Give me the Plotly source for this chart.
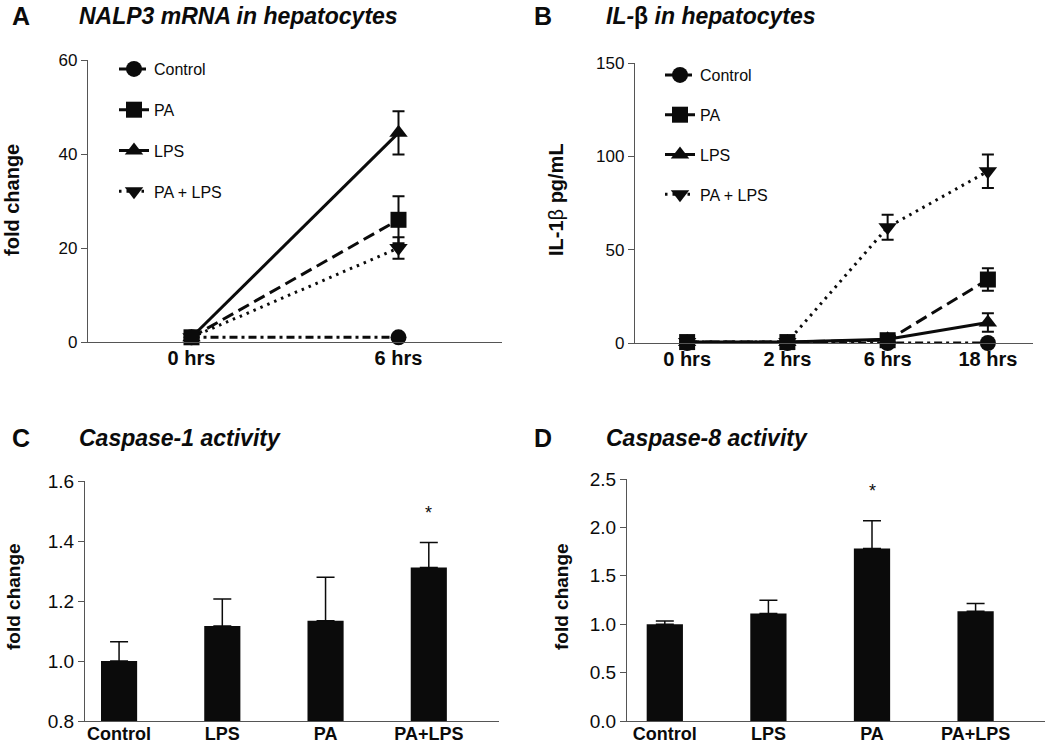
import plotly.graph_objects as go

# ---------------- data ----------------
time_a = ["0 hrs", "6 hrs"]
a_control = [1.0, 1.0]
a_control_err = [0.3, 0.4]
a_pa = [1.0, 26.0]
a_pa_err = [0.2, 5.0]
a_lps = [1.0, 44.5]
a_lps_err = [0.2, 4.6]
a_palps = [1.0, 20.0]
a_palps_err = [0.2, 2.3]

time_b = ["0 hrs", "2 hrs", "6 hrs", "18 hrs"]
b_control = [0.0, 0.0, 0.0, 0.0]
b_control_err = [0.0, 0.0, 0.0, 0.0]
b_pa = [0.5, 0.5, 1.5, 34.0]
b_pa_err = [0.3, 0.3, 0.5, 6.0]
b_lps = [0.5, 0.5, 2.0, 11.0]
b_lps_err = [0.3, 0.3, 0.5, 5.0]
b_palps = [0.5, 0.5, 62.0, 92.0]
b_palps_err = [0.3, 0.3, 6.7, 9.0]

groups_cd = ["Control", "LPS", "PA", "PA+LPS"]
c_vals = [1.0, 1.117, 1.134, 1.312]
c_err = [0.064, 0.090, 0.145, 0.083]
c_sig = [False, False, False, True]
d_vals = [1.0, 1.11, 1.783, 1.134]
d_err = [0.034, 0.138, 0.285, 0.080]
d_sig = [False, False, True, False]

series_names = ["Control", "PA", "LPS", "PA + LPS"]
# ---------------- styles ----------------
FONT = "Liberation Sans, Arial, Helvetica, sans-serif"
BLACK = "#0b0b0b"
AXC = "#555555"
W, H = 1050, 744

styles = {
    "Control": dict(symbol="circle", dash="8px,4px,3px,4px"),
    "PA": dict(symbol="square", dash="12px,6px"),
    "LPS": dict(symbol="triangle-up", dash="solid"),
    "PA + LPS": dict(symbol="triangle-down", dash="2.5px,5px"),
}
rank = {"Control": 1, "PA": 2, "LPS": 3, "PA + LPS": 4}


def px_x(p):
    return p / W


def px_y(p):
    return 1 - p / H


fig = go.Figure()

order = ["Control", "LPS", "PA + LPS", "PA"]
a_data = {"Control": (a_control, a_control_err), "PA": (a_pa, a_pa_err),
          "LPS": (a_lps, a_lps_err), "PA + LPS": (a_palps, a_palps_err)}
b_data = {"Control": (b_control, b_control_err), "PA": (b_pa, b_pa_err),
          "LPS": (b_lps, b_lps_err), "PA + LPS": (b_palps, b_palps_err)}

for name in order:
    st = styles[name]
    vals, err = a_data[name]
    fig.add_trace(go.Scatter(
        x=time_a, y=vals, name=name, mode="lines+markers",
        line=dict(color=BLACK, width=3, dash=st["dash"]),
        marker=dict(symbol=st["symbol"], size=16, color=BLACK),
        error_y=dict(type="data", array=err, color=BLACK, thickness=2, width=6),
        xaxis="x", yaxis="y", legend="legend", legendrank=rank[name],
        legendgroup="a_" + name, cliponaxis=False,
    ))
for name in order:
    st = styles[name]
    vals, err = b_data[name]
    fig.add_trace(go.Scatter(
        x=time_b, y=vals, name=name, mode="lines+markers",
        line=dict(color=BLACK, width=3, dash=st["dash"]),
        marker=dict(symbol=st["symbol"], size=16, color=BLACK),
        error_y=dict(type="data", array=err, color=BLACK, thickness=2, width=6),
        xaxis="x2", yaxis="y2", legend="legend2", legendrank=rank[name],
        legendgroup="b_" + name, cliponaxis=False,
    ))

fig.add_trace(go.Bar(
    x=groups_cd, y=c_vals, width=0.35, marker=dict(color=BLACK, line=dict(width=0)),
    error_y=dict(type="data", array=c_err, arrayminus=[0] * len(c_err), symmetric=False,
                 color=BLACK, thickness=1.5, width=9),
    xaxis="x3", yaxis="y3", showlegend=False,
))
fig.add_trace(go.Bar(
    x=groups_cd, y=d_vals, width=0.35, marker=dict(color=BLACK, line=dict(width=0)),
    error_y=dict(type="data", array=d_err, arrayminus=[0] * len(d_err), symmetric=False,
                 color=BLACK, thickness=1.5, width=9),
    xaxis="x4", yaxis="y4", showlegend=False,
))

ann = []
for cat, v, e, s in zip(groups_cd, c_vals, c_err, c_sig):
    if s:
        ann.append(dict(x=cat, y=v + e, xref="x3", yref="y3", text="*", showarrow=False,
                        yshift=30, font=dict(family=FONT, size=18, color=BLACK)))
for cat, v, e, s in zip(groups_cd, d_vals, d_err, d_sig):
    if s:
        ann.append(dict(x=cat, y=v + e, xref="x4", yref="y4", text="*", showarrow=False,
                        yshift=30, font=dict(family=FONT, size=18, color=BLACK)))


def txt(x, y, text, size, xanchor="left", yanchor="middle", angle=0):
    return dict(x=px_x(x), y=px_y(y), xref="paper", yref="paper", text=text,
                showarrow=False, xanchor=xanchor, yanchor=yanchor, textangle=angle,
                font=dict(family=FONT, size=size, color=BLACK))


ann += [
    txt(10, 16, "<b>A</b>", 25),
    txt(77, 16, "<b><i>NALP3 mRNA in hepatocytes</i></b>", 23),
    txt(532, 16, "<b>B</b>", 25),
    txt(604, 16, "<b><i>IL-</i>β<i> in hepatocytes</i></b>", 23),
    txt(10, 438, "<b>C</b>", 25),
    txt(77, 438, "<b><i>Caspase-1 activity</i></b>", 23),
    txt(532, 438, "<b>D</b>", 25),
    txt(604, 438, "<b><i>Caspase-8 activity</i></b>", 23),
    txt(12, 200, "<b>fold change</b>", 20, xanchor="center", angle=-90),
    txt(556, 200, "<b>IL-1</b>β<b> pg/mL</b>", 20, xanchor="center", angle=-90),
    txt(13, 597, "<b>fold change</b>", 19, xanchor="center", angle=-90),
    txt(561, 597, "<b>fold change</b>", 19, xanchor="center", angle=-90),
]


def xax(domain, rng, size, anchor, standoff):
    return dict(domain=domain, range=rng, type="category", showline=True, linecolor=AXC,
                linewidth=1.3, ticks="", showgrid=False, zeroline=False, automargin=False,
                anchor=anchor, ticklabelstandoff=standoff,
                tickfont=dict(family=FONT, size=size, color=BLACK, weight="bold"),
                fixedrange=True)


def yax(domain, rng, dtick, size, anchor, fmt=None):
    d = dict(domain=domain, range=rng, dtick=dtick, tick0=rng[0], showline=True, linecolor=AXC,
             linewidth=1.3, ticks="outside", ticklen=6, tickcolor=AXC, tickwidth=1.3,
             showgrid=False, zeroline=False, anchor=anchor, automargin=False,
             tickfont=dict(family=FONT, size=size, color=BLACK), fixedrange=True)
    if fmt:
        d["tickformat"] = fmt
    return d


layout = dict(
    width=W, height=H, autosize=False, margin=dict(l=0, r=0, t=0, b=0, pad=0),
    paper_bgcolor="white", plot_bgcolor="white",
    font=dict(family=FONT, color=BLACK),
    xaxis=xax([px_x(88), px_x(502)], [-0.5, 1.5], 20, "y", -2),
    yaxis=yax([px_y(342), px_y(60)], [0, 60], 20, 17, "x"),
    xaxis2=xax([px_x(635), px_x(1033)], [-0.52, 3.45], 20, "y2", -2),
    yaxis2=yax([px_y(343), px_y(63)], [0, 150], 50, 17, "x2"),
    xaxis3=xax([px_x(85), px_x(499)], [-0.33, 3.68], 18, "y3", -4),
    yaxis3=yax([px_y(721), px_y(481)], [0.8, 1.6], 0.2, 19, "x3", ".1f"),
    xaxis4=xax([px_x(627), px_x(1045)], [-0.365, 3.67], 18, "y4", -4),
    yaxis4=yax([px_y(721), px_y(479)], [0, 2.5], 0.5, 19, "x4", ".1f"),
    legend=dict(x=px_x(114), y=px_y(52), xanchor="left", yanchor="top",
                bgcolor="rgba(0,0,0,0)", itemwidth=30, tracegroupgap=17,
                font=dict(family=FONT, size=16, color=BLACK), traceorder="grouped"),
    legend2=dict(x=px_x(660), y=px_y(58), xanchor="left", yanchor="top",
                 bgcolor="rgba(0,0,0,0)", itemwidth=30, tracegroupgap=16,
                 font=dict(family=FONT, size=16, color=BLACK), traceorder="grouped"),
    annotations=ann,
)
fig.update_layout(**layout)

fig.write_html(
    "out.html",
    config={"responsive": False, "displayModeBar": False},
    post_script="document.body.style.margin='0';document.body.style.overflow='hidden';",
)
